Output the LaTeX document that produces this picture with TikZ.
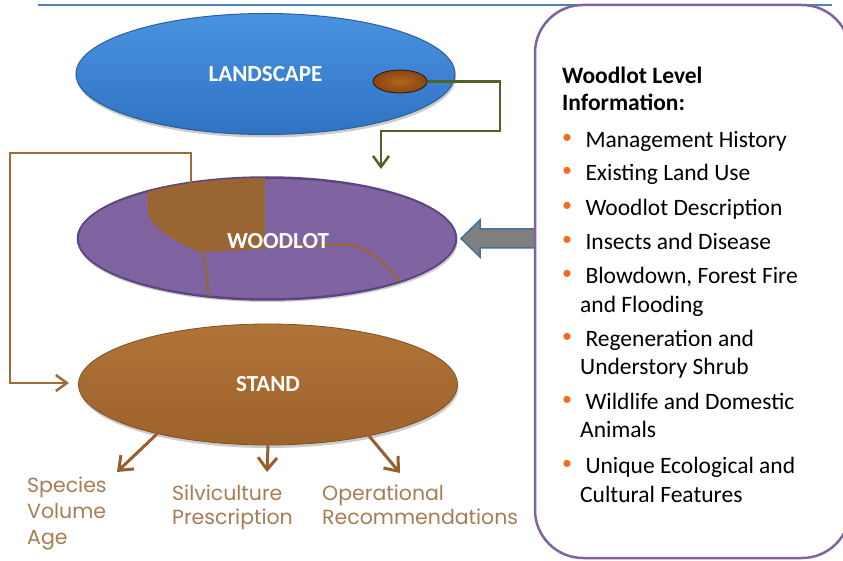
\documentclass[tikz,border=0pt]{standalone}
\usepackage{fontspec}
\setmainfont{Carlito}
\newfontfamily\gothic{Poppins}
\usetikzlibrary{shapes.geometric,arrows.meta,shadows}
\definecolor{lineblue}{HTML}{4F81BD}
\definecolor{landtop}{HTML}{4A93E0}
\definecolor{landbot}{HTML}{2F72C4}
\definecolor{landedge}{HTML}{2E5E98}
\definecolor{seedfill}{HTML}{8A4510}
\definecolor{seedlight}{HTML}{B0661E}
\definecolor{woodfill}{HTML}{8064A2}
\definecolor{woodedge}{HTML}{5C4680}
\definecolor{patch}{HTML}{996633}
\definecolor{standtop}{HTML}{B07437}
\definecolor{standbot}{HTML}{9E622B}
\definecolor{standedge}{HTML}{7E5227}
\definecolor{connbrown}{HTML}{9E6A36}
\definecolor{arrbrown}{HTML}{94602F}
\definecolor{greenline}{HTML}{4F6228}
\definecolor{labelbrown}{HTML}{A67E55}
\definecolor{boxpurple}{HTML}{8064A2}
\definecolor{bulorange}{HTML}{F26B21}
\definecolor{greyarrow}{HTML}{7F7F7F}
\definecolor{greyedge}{HTML}{41719C}
\newcommand{\bul}{\makebox[18pt][l]{\raisebox{4pt}{\textcolor{bulorange}{\fontsize{20pt}{20pt}\selectfont\textbullet}}}}
\newcommand{\cont}{\hspace*{18pt}}
\begin{document}
\begin{tikzpicture}[x=1pt,y=-1pt,
  levelshape/.style={ellipse,inner sep=0pt,minimum width=379pt,minimum height=121pt,
    font=\fontsize{23pt}{27pt}\selectfont\bfseries,text=white},
  softshadow/.style={drop shadow={shadow xshift=1pt,shadow yshift=-3pt,opacity=0.2,fill=black}},
  connhead/.style={-{Straight Barb[length=11pt,width=16pt]}},
  outhead/.style={-{Straight Barb[length=12pt,width=19pt]}},
  stemlabel/.style={anchor=base west,inner sep=0pt,align=left,text=labelbrown,
    font=\gothic\fontsize{20.5pt}{24pt}\selectfont},
  infotextstyle/.style={anchor=base west,inner sep=0pt,align=left,
    font=\fontsize{23.5pt}{28.5pt}\selectfont}]
\useasboundingbox (0,0) rectangle (843,561);
\fill[white] (0,0) rectangle (843,561);

% top rule
\draw[lineblue,line width=2pt] (38,5) -- (832,5);

% big grey block arrow (tail hidden under the box)
\filldraw[fill=greyarrow,draw=greyedge,line width=1.5pt,line join=miter]
  (545,229) -- (480,229) -- (480,220) -- (461,238.5) -- (480,257) -- (480,248) -- (545,248) -- cycle;

% information box
\node[draw=boxpurple,line width=2.5pt,fill=white,rounded corners=48pt,
  minimum width=315pt,minimum height=553pt,inner sep=0pt] (info) at (692.5,281.5) {};
% anchor base = baseline of the last line
\node[infotextstyle] (infotext) at (562,502) {%
\textbf{Woodlot Level}\\[-1.5pt]
\textbf{Information:}\\[8.5pt]
\bul\ Management History\\[4.5pt]
\bul\ Existing Land Use\\[6.5pt]
\bul\ Woodlot Description\\[5.5pt]
\bul\ Insects and Disease\\[5.5pt]
\bul\ Blowdown, Forest Fire\\
\cont and Flooding\\[6pt]
\bul\ Regeneration and\\[-0.5pt]
\cont Understory Shrub\\[6.5pt]
\bul\ Wildlife and Domestic\\[-0.5pt]
\cont Animals\\[7.5pt]
\bul\ Unique Ecological and\\
\cont Cultural Features};

% LANDSCAPE
\node[levelshape,softshadow,draw=landedge,line width=1pt,top color=landtop,bottom color=landbot] (landscape) at (265.5,74) {LANDSCAPE};
\node[ellipse,inner sep=0pt,minimum width=54pt,minimum height=23pt,draw=black!70!seedfill,line width=0.8pt,
  inner color=seedlight,outer color=seedfill] (seed) at (400,81.5) {};

% WOODLOT
\node[levelshape,softshadow,fill=woodfill,draw=woodedge,line width=1.5pt] (woodlot) at (267,238.5) {};
\begin{scope}
  \clip (267,238.5) ellipse [x radius=189pt,y radius=61.5pt];
  \fill[patch] (146,170) -- (265,170) -- (265,249) -- (200,252)
     .. controls (185,246) and (150,230) .. (148,212) -- cycle;
  \draw[patch,line width=2pt] (203,251) .. controls (206,270) and (208,285) .. (209,300);
  \draw[patch,line width=2pt] (265,245) -- (352,245) .. controls (368,250) and (385,262) .. (399,281);
\end{scope}
\draw[woodedge,line width=1.5pt] (267,238.5) ellipse [x radius=189pt,y radius=61.5pt];
\node[font=\fontsize{23pt}{27pt}\selectfont\bfseries,text=white,inner sep=0pt] (woodlotlabel) at (278,241) {WOODLOT};

% STAND
\node[levelshape,softshadow,draw=standedge,line width=0.8pt,top color=standtop,bottom color=standbot] (stand) at (268,384.5) {STAND};

% green connector landscape -> woodlot
\coordinate (gtip) at (381,169);
\draw[greenline,line width=2.5pt,connhead] (seed.east) -- (500,81.5) -- (500,131) -- (381,131) -- (gtip);

% brown connector woodlot patch -> stand
\coordinate (btip) at (69,383);
\draw[connbrown,line width=2.5pt,connhead] (191,183) -- (191,153) -- (10,153) -- (10,383) -- (btip);

% stand outputs
\coordinate (t1) at (117,472);
\coordinate (t2) at (267,472);
\coordinate (t3) at (400,473);
\draw[arrbrown,line width=3pt,outhead] (stand.204) -- (t1);
\draw[arrbrown,line width=3pt,outhead] (stand.270) -- (t2);
\draw[arrbrown,line width=3pt,outhead] (stand.333) -- (t3);

\node[stemlabel] (species) at (27,544) {Species\\[2pt]Volume\\[2pt]Age};
\node[stemlabel] (silvi) at (172,524) {Silviculture\\Prescription};
\node[stemlabel] (oper) at (322,524) {Operational\\Recommendations};
\end{tikzpicture}
\end{document}
